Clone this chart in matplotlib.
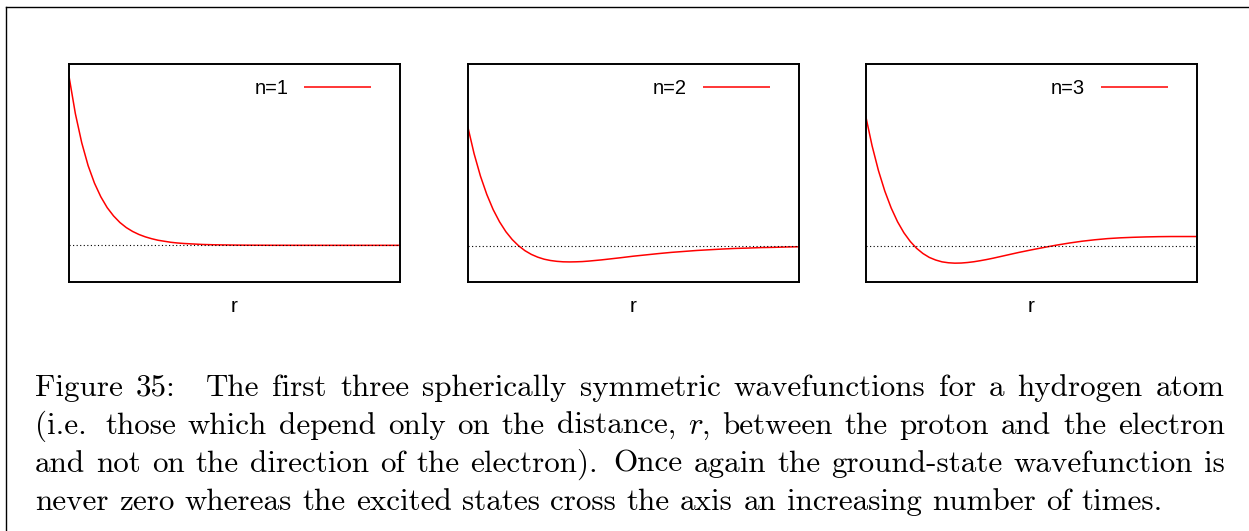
import matplotlib
matplotlib.use("Agg")
import matplotlib.pyplot as plt
from matplotlib.lines import Line2D

# ---------------- data ----------------
r = [0.0, 0.25, 0.5, 0.75, 1.0, 1.25, 1.5, 1.75, 2.0, 2.25, 2.5, 2.75, 3.0,
     3.25, 3.5, 3.75, 4.0, 4.25, 4.5, 4.75, 5.0, 5.25, 5.5, 5.75, 6.0,
     6.5, 7.0, 7.5, 8.0, 8.5, 9.0, 9.5, 10.0, 10.5, 11.0, 11.5, 12.0, 12.5, 13.0]

psi_n1 = [1.000, 0.779, 0.607, 0.472, 0.368, 0.287, 0.223, 0.174, 0.135, 0.105,
          0.082, 0.064, 0.050, 0.039, 0.030, 0.024, 0.018, 0.014, 0.011, 0.009,
          0.007, 0.005, 0.004, 0.003, 0.0025, 0.0015, 0.0009, 0.0006, 0.0003,
          0.0002, 0.0001, 0.0001, 0.0, 0.0, 0.0, 0.0, 0.0, 0.0, 0.0]

psi_n2 = [1.000, 0.772, 0.584, 0.430, 0.303, 0.201, 0.118, 0.052, 0.000, -0.041,
          -0.072, -0.095, -0.112, -0.123, -0.130, -0.134, -0.135, -0.134, -0.132,
          -0.128, -0.123, -0.118, -0.112, -0.106, -0.100, -0.087, -0.076, -0.065,
          -0.055, -0.047, -0.039, -0.033, -0.027, -0.022, -0.019, -0.015, -0.013,
          -0.010, -0.008]

psi_n3 = [1.000, 0.771, 0.580, 0.422, 0.292, 0.186, 0.101, 0.034, -0.019, -0.059,
          -0.089, -0.109, -0.123, -0.130, -0.133, -0.132, -0.128, -0.122, -0.114,
          -0.105, -0.095, -0.084, -0.073, -0.062, -0.051, -0.031, -0.012, 0.006,
          0.022, 0.036, 0.047, 0.056, 0.062, 0.066, 0.069, 0.071, 0.072, 0.072,
          0.072]

series = [psi_n1, psi_n2, psi_n3]
series_labels = ["n=1", "n=2", "n=3"]
x_label = "r"

caption_lines = [
    "Figure 35: The first three spherically symmetric wavefunctions for a hydrogen atom",
    "(i.e. those which depend only on the distance, $r$, between the proton and the electron",
    "and not on the direction of the electron). Once again the ground-state wavefunction is",
    "never zero whereas the excited states cross the axis an increasing number of times.",
]

# ---------------- layout ----------------
W, H = 1249, 531
fig = plt.figure(figsize=(W / 100, H / 100), dpi=100)
fig.patch.set_facecolor("white")

def fx(px):
    return px / W

def fy(py):
    return 1 - py / H

panel_left = [69, 467.7, 865.7]
panel_w = 331
panel_top, panel_bot = 64, 282
ylims = [(-0.217, 1.073), (-0.303, 1.522), (-0.278, 1.40)]

sans = "Liberation Sans"

for i in range(3):
    ax = fig.add_axes([fx(panel_left[i]), fy(panel_bot),
                       fx(panel_w), (panel_bot - panel_top) / H])
    ax.plot(r, series[i], color="#ff0000", lw=1.1, label=series_labels[i],
            solid_capstyle="butt")
    ax.axhline(0, color="black", lw=0.8, linestyle=(0, (1, 2.2)))
    ax.set_xlim(0, 13)
    ax.set_ylim(*ylims[i])
    ax.set_xticks([])
    ax.set_yticks([])
    for s in ax.spines.values():
        s.set_linewidth(1.4)
        s.set_color("black")
    ax.set_xlabel(x_label, fontsize=15, family=sans, labelpad=11)
    ax.legend(loc="upper right", bbox_to_anchor=(0.912, 0.93), frameon=False,
              markerfirst=False, handlelength=3.3, handletextpad=0.8,
              borderpad=0, borderaxespad=0,
              prop={"family": sans, "size": 14.5})

# outer frame (top and left)
fig.add_artist(Line2D([fx(6), fx(6)], [fy(7), 0], transform=fig.transFigure,
                      color="black", lw=1.0))
fig.add_artist(Line2D([fx(6), 1], [fy(7), fy(7)], transform=fig.transFigure,
                      color="black", lw=1.0))

# ---------------- justified caption ----------------
fs = 22.4
renderer = fig.canvas.get_renderer()

def runs_of(word):
    parts = word.split("$")
    out = []
    for k, p in enumerate(parts):
        if p:
            out.append((p, "cmmi10" if k % 2 == 1 else "cmr10"))
    return out

def width_of(txt, fam):
    t = fig.text(0, 0, txt, fontsize=fs, family=fam)
    w = t.get_window_extent(renderer).width
    t.remove()
    return w

em = fs * 100 / 72.0
space = 0.333 * em
left, right = 35, 1225
baselines = [396, 434, 472, 510]

for li, line in enumerate(caption_lines):
    words = line.split(" ")
    wruns = [runs_of(w) for w in words]
    widths = [[width_of(t, f) for t, f in wr] for wr in wruns]
    wsum = [sum(ws) for ws in widths]
    gaps_nat, gaps_str = [], []
    for w in words[:-1]:
        if w.endswith(":"):
            gaps_nat.append(space + 0.45 * em); gaps_str.append(2.0)
        elif w.endswith("."):
            gaps_nat.append(space + 0.111 * em); gaps_str.append(3.0)
        else:
            gaps_nat.append(space); gaps_str.append(1.0)
    justify = li < len(caption_lines) - 1
    if justify:
        extra = (right - left) - sum(wsum) - sum(gaps_nat)
        s = extra / sum(gaps_str)
    else:
        s = 0.0
    x = left
    for k, wr in enumerate(wruns):
        xx = x
        for (t, f), w in zip(wr, widths[k]):
            fig.text(fx(xx), fy(baselines[li]), t, fontsize=fs, family=f,
                     va="baseline", ha="left")
            xx += w
        x += wsum[k]
        if k < len(gaps_nat):
            x += gaps_nat[k] + gaps_str[k] * s

fig.savefig("out.png", dpi=100, facecolor="white")
